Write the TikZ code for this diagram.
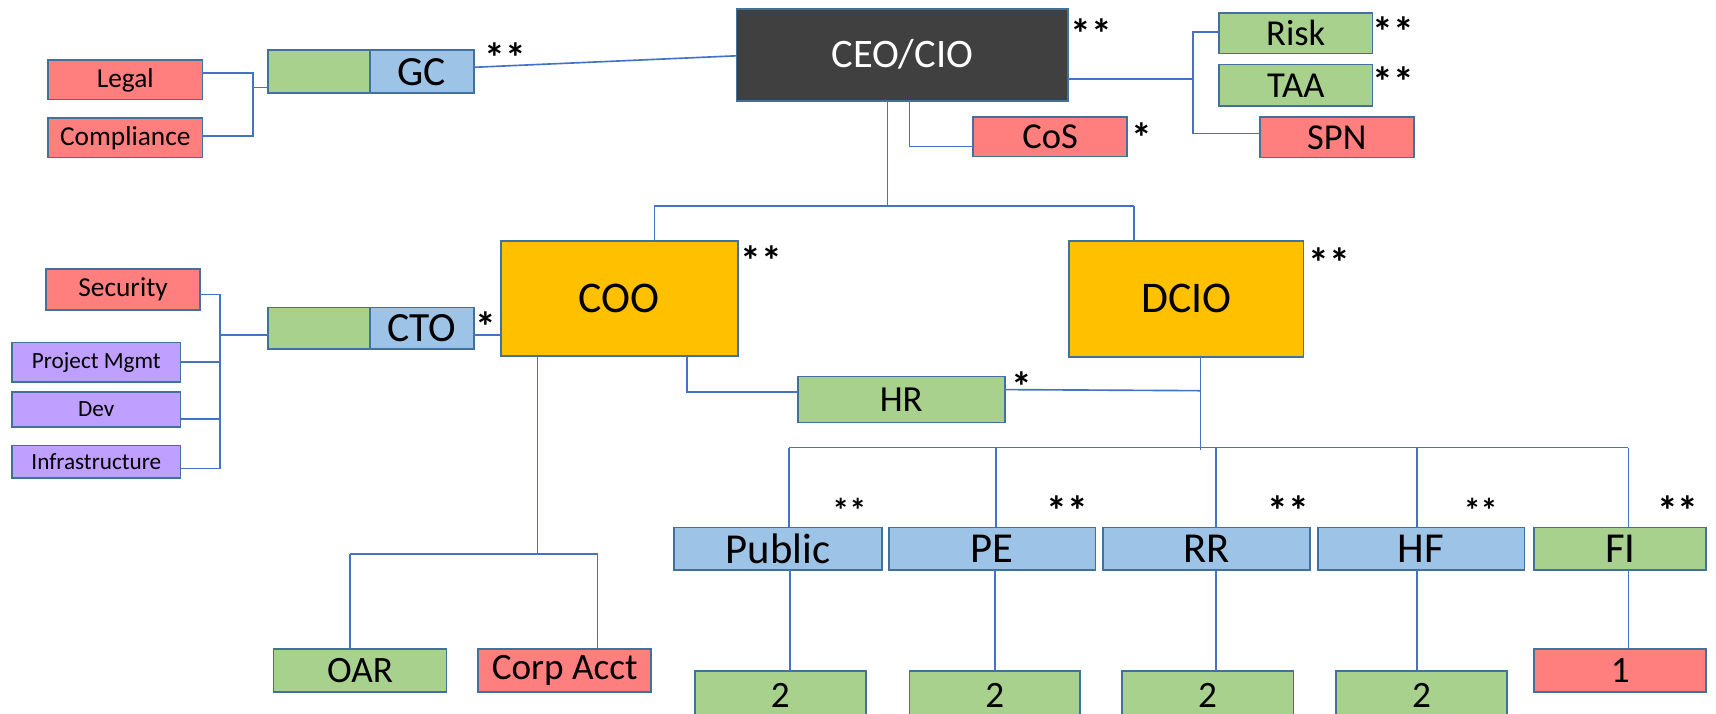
\documentclass[tikz,border=0pt]{standalone}
\usepackage{fontspec}
\setmainfont{Carlito}
\definecolor{redb}{HTML}{FF7F7F}
\definecolor{grnb}{HTML}{A9D18E}
\definecolor{blub}{HTML}{9DC3E6}
\definecolor{purb}{HTML}{BF9FFF}
\definecolor{orgb}{HTML}{FFC000}
\definecolor{dkb}{HTML}{404040}
\definecolor{bordc}{HTML}{41719C}
\definecolor{lnc}{HTML}{4472C4}
\newcommand\bx[8]{\node[box,#6,font=\fontsize{#7}{#7}\selectfont,minimum width={(#4-#2)*0.5pt},minimum height={(#5-#3)*0.5pt}] (#1) at ({(#2+#4)/2},{(#3+#5)/2}) {#8};}
\tikzset{
  box/.style={draw=bordc,line width=0.8pt,inner sep=0pt,outer sep=0pt,text=black},
  ln/.style={draw=lnc,line width=0.75pt},
  astbig/.style={inner sep=0pt,font=\fontsize{19}{19}\selectfont\bfseries},
  astsm/.style={inner sep=0pt,font=\fontsize{15.5}{15.5}\selectfont\bfseries}
}
\begin{document}
\begin{tikzpicture}[x=0.5pt,y=-0.5pt]
\clip (0,0) rectangle (1568,652);
\fill[white] (0,0) rectangle (1568,652);
% boxes
\bx{legal}{44}{55}{185}{91}{fill=redb}{12.5}{Legal}
\bx{compl}{44}{108}{185}{144}{fill=redb}{12.5}{Compliance}
\bx{gcg}{245}{46}{338}{85}{fill=grnb}{19}{}
\bx{gc}{338}{46}{433}{85}{fill=blub}{19}{GC}
\bx{ceo}{673}{8}{976}{92}{fill=dkb,text=white}{18.5}{CEO/CIO}
\bx{cos}{889}{107}{1030}{143}{fill=redb}{16.7}{CoS}
\bx{risk}{1114}{12}{1254}{49}{fill=grnb}{16.7}{Risk}
\bx{taa}{1114}{59}{1254}{97}{fill=grnb}{16.7}{TAA}
\bx{spn}{1151}{107}{1292}{144}{fill=redb}{16.7}{SPN}
\bx{sec}{42}{246}{183}{283}{fill=redb}{12.5}{Security}
\bx{pm}{11}{313}{165}{349}{fill=purb}{10.6}{Project Mgmt}
\bx{dev}{11}{358}{165}{390}{fill=purb}{10.6}{Dev}
\bx{inf}{11}{407}{165}{437}{fill=purb}{10.6}{Infrastructure}
\bx{ctog}{245}{281}{338}{319}{fill=grnb}{19}{}
\bx{cto}{338}{281}{433}{319}{fill=blub}{19}{CTO}
\bx{coo}{458}{220}{674}{325}{fill=orgb}{20}{COO}
\bx{dcio}{977}{220}{1191}{326}{fill=orgb}{20}{DCIO}
\bx{hr}{729}{344}{918}{386}{fill=grnb}{16.8}{HR}
\bx{pub}{616}{482}{806}{521}{fill=blub}{19.5}{Public}
\bx{pe}{812}{482}{1001}{521}{fill=blub}{19.5}{PE}
\bx{rr}{1008}{482}{1197}{521}{fill=blub}{19.5}{RR}
\bx{hf}{1204}{482}{1393}{521}{fill=blub}{19.5}{HF}
\bx{fi}{1402}{482}{1559}{521}{fill=grnb}{19.5}{FI}
\bx{oar}{250}{593}{408}{632}{fill=grnb}{17}{OAR}
\bx{corp}{437}{593}{595}{632}{fill=redb}{17}{Corp Acct}
\bx{ta}{635}{613}{791}{657}{fill=grnb}{17}{2}
\bx{tb}{831}{613}{987}{657}{fill=grnb}{17}{2}
\bx{tc}{1025}{613}{1182}{657}{fill=grnb}{17}{2}
\bx{td}{1221}{613}{1377}{657}{fill=grnb}{17}{2}
\bx{one}{1402}{593}{1559}{632}{fill=redb}{17}{1}
% asterisks
\node[astbig] (s1) at (462,53) {**};
\node[astbig] (s2) at (997,31) {**};
\node[astbig] (s3) at (1043,126) {*};
\node[astbig] (s4) at (1273,29) {**};
\node[astbig] (s5) at (1273,75) {**};
\node[astbig] (s6) at (444,298) {*};
\node[astbig] (s7) at (696,238) {**};
\node[astbig] (s8) at (1215,240) {**};
\node[astbig] (s9) at (934,353) {*};
\node[astsm] (s10) at (776,466) {**};
\node[astbig] (s11) at (975,467) {**};
\node[astbig] (s12) at (1177,467) {**};
\node[astsm] (s13) at (1353,466) {**};
\node[astbig] (s14) at (1533,467) {**};
% junction coordinates
\coordinate (jl1) at (231,67);
\coordinate (jl2) at (231,124);
\coordinate (jl3) at (231,80);
\coordinate (jr1) at (1090,72);
\coordinate (jr2) at (1090,29);
\coordinate (jr3) at (1090,122);
\coordinate (jc1) at (811,188);
\coordinate (jc2) at (598,188);
\coordinate (jc3) at (1036,188);
\coordinate (jcos) at (831,134);
\coordinate (js1) at (201,269);
\coordinate (js2) at (201,428);
\coordinate (js3) at (201,306);
\coordinate (jh1) at (628,358);
\coordinate (jh2) at (1097,357);
\coordinate (jd1) at (1097,409);
\coordinate (jb1) at (721,409);
\coordinate (jb2) at (1488,409);
\coordinate (jo1) at (491,506);
\coordinate (jo2) at (320,506);
\coordinate (jo3) at (546,506);
% connectors
\draw[ln] (legal.east |- jl1) -- (jl1) -- (jl2) -- (compl.east |- jl2);
\draw[ln] (jl3) -- (gcg.west |- jl3);
\draw[ln] ([yshift=2pt]gc.east) -- ([yshift=-0.5pt]ceo.west);
\draw[ln] (ceo.east |- jr1) -- (jr1);
\draw[ln] (risk.west |- jr2) -- (jr2) -- (jr3) -- (spn.west |- jr3);
\draw[ln] (ceo.south -| jc1) -- (jc1);
\draw[ln] (jc2) -- (jc3);
\draw[ln] (jc2) -- (coo.north -| jc2);
\draw[ln] (jc3) -- (dcio.north -| jc3);
\draw[ln] (ceo.south -| jcos) -- (jcos) -- (cos.west |- jcos);
\draw[ln] (sec.east |- js1) -- (js1) -- (js2) -- (inf.east |- js2);
\draw[ln] (pm.east) -- (pm.east -| js1);
\draw[ln] (dev.east |- 0,383) -- (201,383);
\draw[ln] (js3) -- (ctog.west |- js3);
\draw[ln] (cto.east |- js3) -- (coo.west |- js3);
\draw[ln] (coo.south -| jh1) -- (jh1) -- (hr.west |- jh1);
\draw[ln] (hr.east |- 0,356) -- (jh2);
\draw[ln] (dcio.south -| jd1) -- ([yshift=-1pt]jd1);
\draw[ln] (jb1) -- (jb2);
\draw[ln] (jb1) -- (pub.north -| jb1);
\draw[ln] (910,409) -- (pe.north -| 910,0);
\draw[ln] (1111,409) -- (rr.north -| 1111,0);
\draw[ln] (1295,409) -- (hf.north -| 1295,0);
\draw[ln] (jb2) -- (fi.north -| jb2);
\draw[ln] (pub.south -| 722,0) -- (ta.north -| 722,0);
\draw[ln] (pe.south -| 909,0) -- (tb.north -| 909,0);
\draw[ln] (rr.south -| 1111,0) -- (tc.north -| 1111,0);
\draw[ln] (hf.south -| 1295,0) -- (td.north -| 1295,0);
\draw[ln] (fi.south -| 1488,0) -- (one.north -| 1488,0);
\draw[ln] (coo.south -| jo1) -- (jo1);
\draw[ln] (jo2) -- (jo3);
\draw[ln] (jo2) -- (oar.north -| jo2);
\draw[ln] (jo3) -- (corp.north -| jo3);
\end{tikzpicture}
\end{document}
